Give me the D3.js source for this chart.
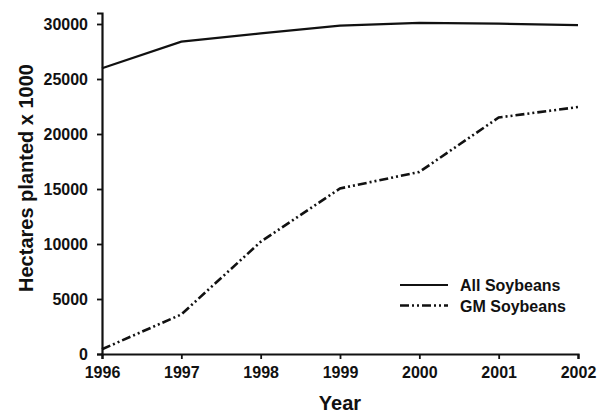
<!DOCTYPE html>
<html>
<head>
<meta charset="utf-8">
<script src="https://cdn.jsdelivr.net/npm/d3@7"></script>
<style>
  body { margin: 0; background: #fff; }
  text { font-family: "Liberation Sans", Arial, sans-serif; font-weight: bold; fill: #111; }
</style>
</head>
<body>
<div class="chart"></div>
<script>
const years = [1996, 1997, 1998, 1999, 2000, 2001, 2002]
const allSoybeans = [25970, 28400, 29150, 29850, 30100, 30030, 29900]
const gmSoybeans = [430, 3600, 10200, 15050, 16550, 21500, 22450]
const yTicks = [0, 5000, 10000, 15000, 20000, 25000, 30000]
const seriesNames = ["All Soybeans", "GM Soybeans"]

const width = 603
const height = 416
const margin = { top: 13, right: 25, bottom: 62, left: 102 }

const svg = d3.select(".chart").append("svg")
    .attr("width", width)
    .attr("height", height)

const g = svg.append("g")
    .attr("transform", "translate(" + margin.left + "," + margin.top + ")")

const innerW = 476
const innerH = height - margin.top - margin.bottom

const xScale = d3.scaleLinear().domain([1996, 2002]).range([0, innerW])
const yScale = d3.scaleLinear().domain([0, 31000]).range([innerH, 0])

// axes
const xAxis = g.append("g")
    .attr("transform", "translate(0," + innerH + ")")
    .call(d3.axisBottom(xScale).tickValues(years).tickFormat(d3.format("d")).tickSizeOuter(0).tickSize(5).tickPadding(8))
const yAxis = g.append("g")
    .call(d3.axisLeft(yScale).tickValues(yTicks).tickFormat(d3.format("d")).tickSizeOuter(0).tickSize(5).tickPadding(9))

;[xAxis, yAxis].forEach(a => {
    a.select(".domain").attr("stroke", "#111").attr("stroke-width", 2.2)
    a.selectAll(".tick line").attr("stroke", "#111").attr("stroke-width", 1.8)
    a.selectAll(".tick text").attr("font-size", 16).attr("font-family", null)
})

// lines
const line = d3.line()
    .x((d, i) => xScale(years[i]))
    .y(d => yScale(d))

g.append("path")
    .datum(allSoybeans)
    .attr("fill", "none")
    .attr("stroke", "#111")
    .attr("stroke-width", 2.2)
    .attr("d", line)

const dashGM = "9,3,2,3,2,3"
g.append("path")
    .datum(gmSoybeans)
    .attr("fill", "none")
    .attr("stroke", "#111")
    .attr("stroke-width", 2.6)
    .attr("stroke-dasharray", dashGM)
    .attr("d", line)

// legend
const legend = svg.append("g").attr("transform", "translate(400,285)")
seriesNames.forEach((name, i) => {
    const row = legend.append("g").attr("transform", "translate(0," + (i * 20.5) + ")")
    row.append("line")
        .attr("x1", 0).attr("x2", 48)
        .attr("stroke", "#111")
        .attr("stroke-width", i === 0 ? 2.2 : 2.6)
        .attr("stroke-dasharray", i === 0 ? null : dashGM)
    row.append("text")
        .attr("x", 60).attr("y", 6)
        .attr("font-size", 16)
        .text(name)
})

// axis titles
svg.append("text")
    .attr("x", margin.left + innerW / 2)
    .attr("y", 410)
    .attr("text-anchor", "middle")
    .attr("font-size", 20)
    .text("Year")

svg.append("text")
    .attr("transform", "translate(33,178) rotate(-90)")
    .attr("text-anchor", "middle")
    .attr("font-size", 20)
    .text("Hectares planted x 1000")
</script>
</body>
</html>
